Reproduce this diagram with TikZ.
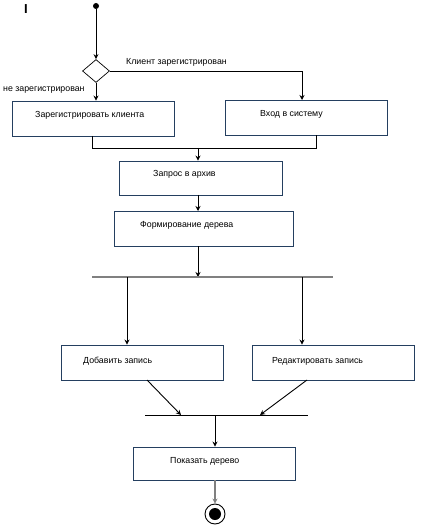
\documentclass[tikz,border=0pt]{standalone}
\usepackage{fontspec}
\setmainfont{Liberation Sans}
\usetikzlibrary{arrows.meta,shapes.geometric}
\begin{document}
\begin{tikzpicture}[x=1pt,y=-1pt,
  every node/.style={font=\fontsize{8.8}{10}\selectfont},
  box/.style={draw=boxblue,line width=0.9pt,rectangle,inner sep=0pt},
  lbl/.style={inner sep=0pt,anchor=west},
  conn/.style={line width=0.9pt,-{Stealth[length=5pt,width=5pt]}},
  plain/.style={line width=0.9pt}]
\definecolor{boxblue}{HTML}{243F60}
\definecolor{bargray}{HTML}{808080}
\useasboundingbox (0,0) rectangle (446,529);
% cursor mark
\node[inner sep=0pt,font=\fontsize{13}{13}\selectfont\bfseries] (cur) at (26,9) {I};
% start
\node[circle,fill=black,inner sep=0pt,minimum size=6pt] (start) at (96,6) {};
% decision
\node[draw,diamond,line width=0.7pt,inner sep=0pt,minimum width=27pt,minimum height=23pt] (dec) at (96,71) {};
\node[lbl] (lyes) at (126,62) {Клиент зарегистрирован};
\node[lbl] (lno) at (3,90) {не зарегистрирован};
% boxes
\node[box,minimum width=162pt,minimum height=35pt] (reg) at (93,118.5) {};
\node[lbl] (treg) at (35,115) {Зарегистрировать клиента};
\node[box,minimum width=162pt,minimum height=35pt] (login) at (306,117.5) {};
\node[lbl] (tlogin) at (260,114) {Вход в систему};
\node[box,minimum width=163pt,minimum height=34pt] (req) at (200.5,178) {};
\node[lbl] (treq) at (153,174) {Запрос в архив};
\node[box,minimum width=179pt,minimum height=35pt] (tree) at (203.5,228.5) {};
\node[lbl] (ttree) at (140,225) {Формирование дерева};
\node[box,minimum width=162pt,minimum height=35pt] (add) at (142,362.5) {};
\node[lbl] (tadd) at (83,361) {Добавить запись};
\node[box,minimum width=162pt,minimum height=35pt] (edit) at (333,362.5) {};
\node[lbl] (tedit) at (272,361) {Редактировать запись};
\node[box,minimum width=162pt,minimum height=33pt] (show) at (214,463.5) {};
\node[lbl] (tshow) at (170,461) {Показать дерево};
% end
\node[circle,draw,line width=0.9pt,inner sep=0pt,minimum size=20pt] (endo) at (215,514) {};
\node[circle,fill=black,inner sep=0pt,minimum size=12pt] (endi) at (215,514) {};
% helper coordinates
\coordinate (j1l) at (92,148);
\coordinate (j1r) at (316,148);
\coordinate (j1m) at (198,148);
\coordinate (f1l) at (92,277);
\coordinate (f1r) at (333,277);
\coordinate (f1a) at (127,277);
\coordinate (f1b) at (302,277);
\coordinate (f1m) at (198,277);
\coordinate (j2l) at (145,415);
\coordinate (j2r) at (308,415);
\coordinate (j2m) at (215,415);
\coordinate (j2a) at (181,415);
\coordinate (j2b) at (260,415);
% connectors
\draw[conn] (start) -- (dec.north);
\draw[conn] (dec.south) -- (dec.south |- reg.north);
\draw[conn] (dec.east) -| (302,100);
\draw[plain] (92,136) -- (j1l) -- (j1r) -- (316,135);
\draw[conn] (j1m) -- (j1m |- req.north);
\draw[conn] (198,195) -- (198,211);
\draw[conn] (198,246) -- (f1m);
\draw[bargray,line width=2pt] (f1l) -- (f1r);
\draw[conn] (f1a) -- (f1a |- add.north);
\draw[conn] (f1b) -- (f1b |- edit.north);
\draw[conn] (147,380) -- (j2a);
\draw[conn] (307,380) -- (j2b);
\draw[plain] (j2l) -- (j2r);
\draw[conn] (j2m) -- (j2m |- show.north);
\draw[conn,bargray,line width=1.3pt] (215,480) -- (endo.north);
\end{tikzpicture}
\end{document}
